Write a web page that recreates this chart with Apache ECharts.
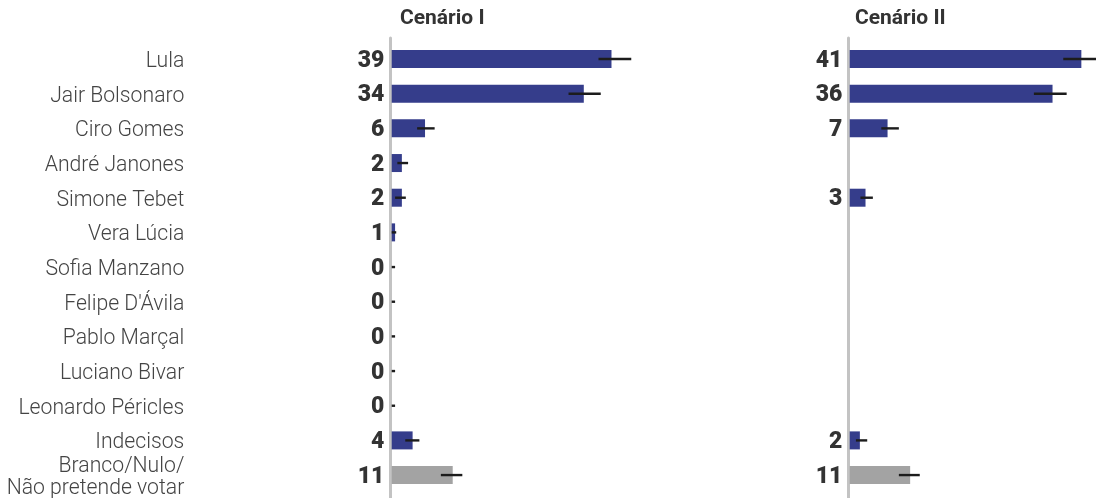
<!DOCTYPE html>
<html>
<head>
<meta charset="utf-8">
<script src="https://cdn.jsdelivr.net/npm/echarts@6/dist/echarts.min.js"></script>
<style>
html,body{margin:0;padding:0;background:#fff;}
#c{width:1096px;height:498px;}
</style>
</head>
<body>
<div id="c"></div>
<script>
// ---- data ----
var categories = ['Lula','Jair Bolsonaro','Ciro Gomes','André Janones','Simone Tebet','Vera Lúcia','Sofia Manzano','Felipe D\'Ávila','Pablo Marçal','Luciano Bivar','Leonardo Péricles','Indecisos','Branco/Nulo/\nNão pretende votar'];
var scenarioTitles = ['Cenário I','Cenário II'];

var values1 = [38.9, 34.0, 5.9, 1.8, 1.8, 0.6, 0, 0, 0, 0, 0, 3.7, 10.8];
var low1    = [36.6, 31.3, 4.5, 1.0, 0.6, 0.0, 0, 0, 0, 0, 0, 2.4, 8.7];
var high1   = [42.4, 37.0, 7.6, 2.9, 2.5, 0.8, 0.6, 0.6, 0.6, 0.6, 0.6, 4.9, 12.5];

var values2 = [41.0, 35.9, 6.7, null, 2.8, null, null, null, null, null, null, 1.8, 10.7];
var low2    = [37.8, 32.6, 5.6, null, 1.9, null, null, null, null, null, null, 1.1, 8.7];
var high2   = [43.6, 38.4, 8.7, null, 4.1, null, null, null, null, null, null, 3.1, 12.4];

// ---- chart ----
var BLUE = '#353d8b', GRAY = '#a3a3a3', TXT = '#333333';
var xMax = 43, pxPerUnit = 5.65;
var plotW = xMax * pxPerUnit;
var gridTop = 41.7, gridH = 450.7;
var lefts = [391.7, 849.7];
var lineLefts = [390.3, 848.3];

function barData(vals){
  return vals.map(function(v,i){
    return {value: v, itemStyle:{color: i === categories.length-1 ? GRAY : BLUE}};
  });
}
function errData(lo, hi){
  var out = [];
  lo.forEach(function(l,i){ if(l != null) out.push([l, hi[i], i]); });
  return out;
}
function renderErr(params, api){
  var a = api.coord([api.value(0), api.value(2)]);
  var b = api.coord([api.value(1), api.value(2)]);
  return {type:'line', shape:{x1:a[0], y1:a[1], x2:b[0], y2:b[1]},
          style:{stroke:'#1c1c1c', lineWidth:2.4}};
}

var grids = [], xAxes = [], yAxes = [], series = [];
[0,1].forEach(function(k){
  grids.push({left: lefts[k], top: gridTop, width: plotW, height: gridH,
    containLabel:false, outerBoundsMode:'none'});
  xAxes.push({type:'value', gridIndex:k, min:0, max:xMax, show:false});
  yAxes.push({type:'category', gridIndex:k, data:categories, inverse:true,
    axisLine:{show:false}, axisTick:{show:false}, splitLine:{show:false}, axisLabel:{show:false}});
});
// axis line grids
[0,1].forEach(function(k){
  grids.push({left: lineLefts[k], top: 38, bottom: 0, width: 10,
    containLabel:false, outerBoundsMode:'none'});
  xAxes.push({type:'value', gridIndex:2+k, show:false});
  yAxes.push({type:'value', gridIndex:2+k, axisLine:{show:true, lineStyle:{color:'#c3c3c3', width:3}},
    axisTick:{show:false}, axisLabel:{show:false}, splitLine:{show:false}});
});
// category label grid (slightly lower so text sits on the bar baseline as in the original)
grids.push({left: lefts[0], top: gridTop + 2.5, width: plotW, height: gridH,
  containLabel:false, outerBoundsMode:'none'});
xAxes.push({type:'value', gridIndex:4, show:false});
yAxes.push({type:'category', gridIndex:4, data:categories, inverse:true,
  axisLine:{show:false}, axisTick:{show:false}, splitLine:{show:false},
  axisLabel:{show:true, interval:0, showMinLabel:true, showMaxLabel:true, hideOverlap:false,
    margin: 207.4, align:'right', fontFamily:'Roboto', fontWeight:300,
    fontSize:21.2, color:'#444', lineHeight:22}});

var vals = [values1, values2], los = [low1, low2], his = [high1, high2];
[0,1].forEach(function(k){
  series.push({type:'bar', xAxisIndex:k, yAxisIndex:k, barWidth:18, data: barData(vals[k]),
    label:{show:true, position:'left', distance:7.4, fontFamily:'Roboto', fontWeight:900,
      fontSize:23, color:TXT, offset:[0,2],
      formatter:function(p){ return p.value == null ? '' : String(Math.round(p.value)); }},
    silent:true, animation:false});
  series.push({type:'custom', xAxisIndex:k, yAxisIndex:k, renderItem: renderErr,
    data: errData(los[k], his[k]), encode:{x:[0,1], y:2}, clip:false, silent:true, animation:false, z:5});
});

var chart = echarts.init(document.getElementById('c'), null, {renderer:'canvas'});
chart.setOption({
  animation:false,
  title: scenarioTitles.map(function(t,k){
    return {text:t, left: [395, 850][k], top: 3,
      textStyle:{fontFamily:'Roboto', fontWeight:'bold', fontSize:21, color:TXT}};
  }),
  grid: grids, xAxis: xAxes, yAxis: yAxes, series: series
});
</script>
</body>
</html>
